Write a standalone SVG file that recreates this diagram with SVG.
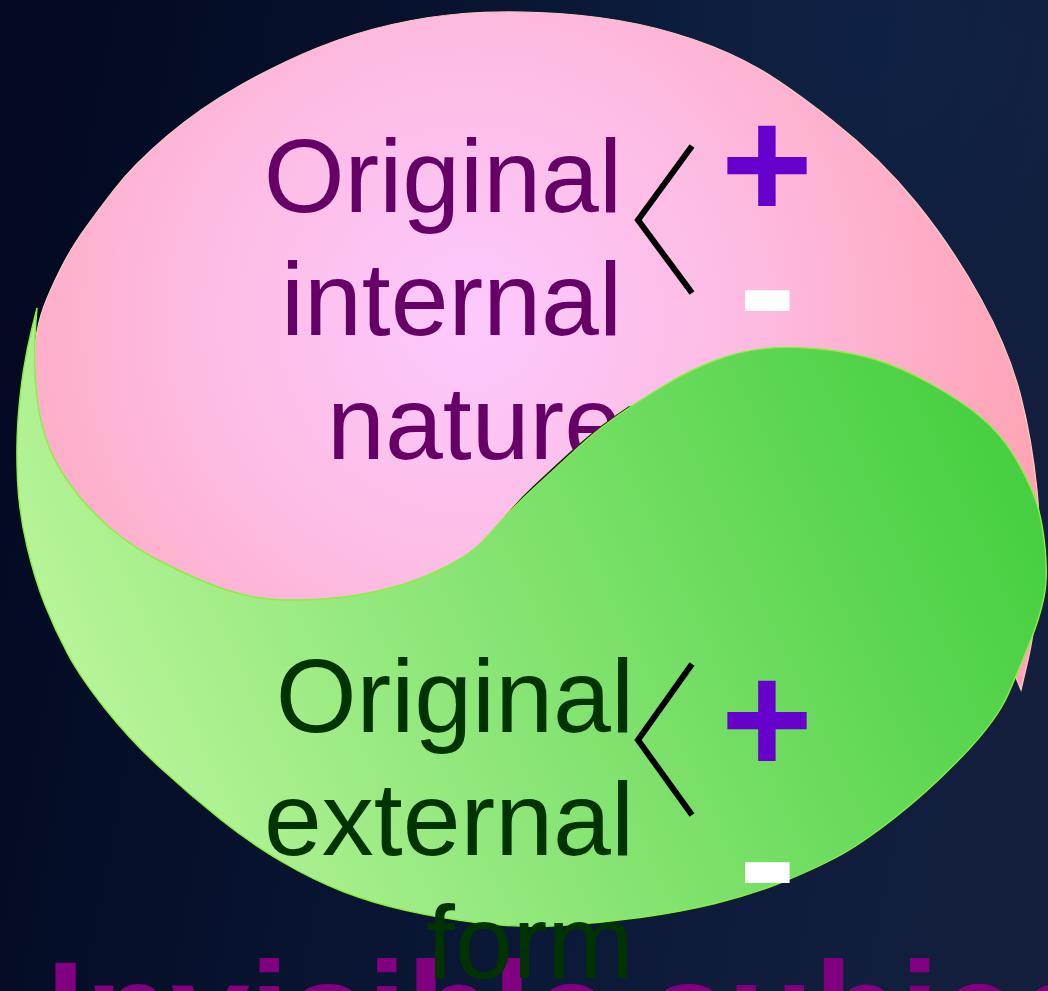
<svg xmlns="http://www.w3.org/2000/svg" width="1048" height="991" viewBox="0 0 1048 991">
<defs>
  <linearGradient id="bg" x1="0" y1="400" x2="1048" y2="600" gradientUnits="userSpaceOnUse">
    <stop offset="0" stop-color="#030a22"/>
    <stop offset="0.6" stop-color="#0b1938"/>
    <stop offset="1" stop-color="#141f3e"/>
  </linearGradient>
  <radialGradient id="bgGlow" cx="860" cy="40" r="420" gradientUnits="userSpaceOnUse">
    <stop offset="0" stop-color="#11284c" stop-opacity="0.5"/>
    <stop offset="1" stop-color="#11284c" stop-opacity="0"/>
  </radialGradient>
  <radialGradient id="pinkFill" cx="470" cy="320" r="580" gradientUnits="userSpaceOnUse">
    <stop offset="0" stop-color="#fdc9fd"/>
    <stop offset="0.45" stop-color="#fdbce4"/>
    <stop offset="1" stop-color="#ffa4b4"/>
  </radialGradient>
  <linearGradient id="greenFill" x1="100" y1="850" x2="1000" y2="430" gradientUnits="userSpaceOnUse">
    <stop offset="0" stop-color="#bdf69d"/>
    <stop offset="1" stop-color="#46cf40"/>
  </linearGradient>
  <style>
    .label { font-family: "Liberation Sans", Arial, sans-serif; font-size: 104px; text-anchor: end; }
    .inner { fill: #660066; }
    .outer { fill: #003300; }
    .plus { font-family: "Liberation Sans", Arial, sans-serif; font-size: 158px; font-weight: bold; fill: #6600cc; text-anchor: middle; }
    .minus { font-family: "Liberation Sans", Arial, sans-serif; font-size: 175px; font-weight: bold; fill: #ffffff; text-anchor: middle; }
    .brace { fill: none; stroke: #000000; stroke-width: 6; stroke-linejoin: miter; stroke-linecap: butt; }
    .title { font-family: "Liberation Sans", Arial, sans-serif; font-size: 141px; font-weight: bold; fill: #800080; }
  </style>
</defs>

<g id="background">
  <rect x="0" y="0" width="1048" height="991" fill="url(#bg)"/>
  <rect x="0" y="0" width="1048" height="991" fill="url(#bgGlow)"/>
</g>

<g id="internal-nature">
  <path d="M 34,405 L 33.5,382.5 Q 33,360 35.5,341 Q 38,322 44,306 Q 50,290 60,270 Q 70,250 81.5,233.5 Q 93,217 113,191 Q 133,165 166.5,136.5 Q 200,108 240,85.5 Q 280,63 317,48 Q 354,33 392,24.5 Q 430,16 463.5,13.5 Q 497,11 538.5,12.5 Q 580,14 618.5,20.5 Q 657,27 693.5,39.5 Q 730,52 758.5,68.5 Q 787,85 833.5,121.5 Q 880,158 916.5,203 Q 953,248 981,299 Q 1009,350 1020.5,395 Q 1032,440 1037,490 Q 1042,540 1038.5,585 Q 1035,630 1028,660 L 1021,690 L 1012,668 L 995,560 L 950,450 L 870,395 L 770,372 L 690,385 L 650,402 L 628,406 L 613.5,416 Q 599,426 585,438 Q 571,450 557,463 Q 543,476 532,486.25 Q 521,496.5 511,508.25 Q 501,520 489.5,535.5 L 478,551 L 457,565 L 417,585 L 360,600 L 300,605 L 250,602 L 200,585 L 133,552 L 85,512 L 50,465 L 36,415 Z" fill="url(#pinkFill)" stroke="#ffc8c4" stroke-width="1.2"/>
  <text class="label inner" x="622" y="212">Original</text>
  <text class="label inner" x="622" y="335">internal</text>
  <text class="label inner" x="622" y="459">nature</text>
</g>

<g id="external-form">
  <path d="M 37,308 L 32,328 Q 27,348 23.5,370 Q 20,392 18,419.5 Q 16,447 17.5,480 Q 19,513 27,546.5 Q 35,580 45,605 Q 55,630 67.5,653.5 Q 80,677 105,708.5 Q 130,740 160,767.5 Q 190,795 220,819 Q 250,843 281.5,861.5 Q 313,880 343,891.5 Q 373,903 406.5,910.5 Q 440,918 480,923 Q 520,928 560,925.5 Q 600,923 640,917.5 Q 680,912 715,903.5 Q 750,895 780,883 Q 810,871 835,858 Q 860,845 895,817.5 Q 930,790 963.5,755 Q 997,720 1008.5,693.5 Q 1020,667 1030,642 Q 1040,617 1044,597 Q 1048,577 1045,547 Q 1042,517 1034.5,497 Q 1027,477 1013.5,455 Q 1000,433 980,416.5 Q 960,400 930,383.5 Q 900,367 875,359.5 Q 850,352 820,349 Q 790,346 765,348.5 Q 740,351 715,360.5 Q 690,370 665,385 Q 640,400 620,414 Q 600,428 586.5,440 Q 573,452 559,465 Q 545,478 534,488 Q 523,498 511.5,510 Q 500,522 488.5,535 Q 477,548 467,554.5 Q 457,561 437,571 Q 417,581 388.5,588.5 Q 360,596 330,598.5 Q 300,601 275,599.5 Q 250,598 225,589.5 Q 200,581 166.5,564.5 Q 133,548 110,528 Q 87,508 70,484.5 Q 53,461 45.5,437.5 Q 38,414 36,388.5 Q 34,363 34.5,349 Q 35,335 36,321.5 L 37,308 Z" fill="url(#greenFill)" stroke="#88f040" stroke-width="1.4"/>
</g>

<g id="connectors">
  <path class="brace" d="M 692,146 L 638,220 L 692,293"/>
  <path class="brace" d="M 692,664 L 638,740 L 692,815"/>
</g>

<g id="internal-signs">
  <text class="plus" x="767" y="218">+</text>
  <text class="minus" x="767.5" y="346">-</text>
</g>

<g id="title">
  <text class="title" x="46" y="1060">Invisible subject</text>
</g>

<g id="external-labels">
  <text class="label outer" x="634" y="732">Original</text>
  <text class="label outer" x="634" y="855">external</text>
  <text class="label outer" x="634" y="978">form</text>
</g>

<g id="external-signs">
  <text class="plus" x="767" y="773">+</text>
  <text class="minus" x="767.5" y="918">-</text>
</g>
</svg>
